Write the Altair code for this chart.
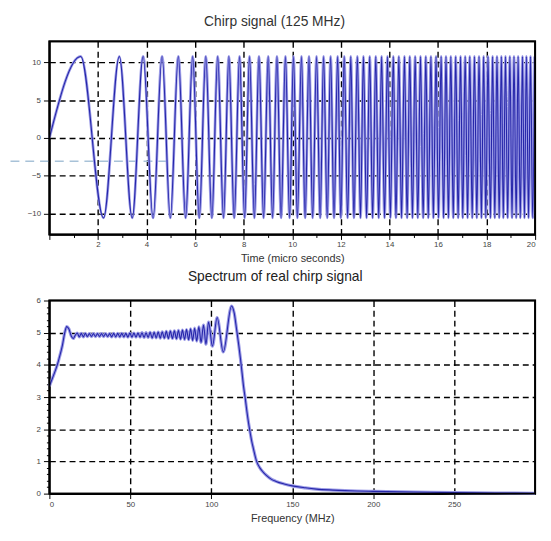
import altair as alt
import pandas as pd

# ---------------- data ----------------
# Chirp signal: times (micro seconds) of successive extrema (peak, trough, peak, ...)
chirp_extrema_t = [
    1.29, 2.23, 2.88, 3.41, 3.86, 4.27, 4.64, 4.98, 5.31, 5.61, 5.90, 6.17, 6.44, 6.69,
    6.93, 7.17, 7.39, 7.61, 7.83, 8.04, 8.24, 8.44, 8.63, 8.82, 9.01, 9.19, 9.37, 9.54,
    9.72, 9.89, 10.05, 10.21, 10.38, 10.53, 10.69, 10.84, 11.00, 11.15, 11.29, 11.44,
    11.58, 11.72, 11.87, 12.00, 12.14, 12.28, 12.41, 12.54, 12.68, 12.81, 12.93, 13.06,
    13.19, 13.31, 13.44, 13.56, 13.68, 13.80, 13.92, 14.04, 14.16, 14.27, 14.39, 14.50,
    14.62, 14.73, 14.84, 14.95, 15.06, 15.17, 15.28, 15.39, 15.50, 15.60, 15.71, 15.81,
    15.92, 16.02, 16.13, 16.23, 16.33, 16.43, 16.53, 16.63, 16.73, 16.83, 16.93, 17.02,
    17.12, 17.22, 17.31, 17.41, 17.50, 17.60, 17.69, 17.79, 17.88, 17.97, 18.06, 18.16,
    18.25, 18.34, 18.43, 18.52, 18.61, 18.69, 18.78, 18.87, 18.96, 19.05, 19.13, 19.22,
    19.30, 19.39, 19.48, 19.56, 19.64, 19.73, 19.81, 19.90, 19.98,
]
chirp_start = (0.0, 0.0)
chirp_levels = [10.8, -10.6]  # peak level, trough level

# Spectrum of real chirp signal
spec_f = [
    0, 2, 4, 5, 6, 8, 9.5, 10.7, 12, 13.5, 14.7, 16.0, 17.2, 18.5, 19.7, 21.0, 22.2,
    23.5, 24.7, 26.0, 27.2, 28.5, 29.7, 31.0, 32.2, 33.5, 34.7, 36.0, 37.2, 38.5, 39.7,
    41.0, 42.2, 43.5, 44.7, 46.0, 47.2, 48.5, 49.7, 51.0, 52.2, 53.5, 54.7, 56.0, 57.2,
    58.5, 59.7, 61.0, 62.2, 63.5, 64.7, 66.0, 67.2, 68.5, 69.7, 71.0, 72.2, 73.5, 74.7,
    76.0, 77.2, 78.5, 79.7, 81.0, 82.2, 83.5, 84.7, 86.0, 87.2, 88.5, 89.7, 91.0, 92.3,
    93.7, 95.2, 96.7, 98.3, 100.7, 103.6, 107.4, 112.5, 114.2, 115.5, 117, 118, 119, 120,
    121, 122, 123, 124, 125, 126, 128, 130, 132, 134, 137, 140, 145, 150, 158, 165, 175,
    190, 200, 225, 250, 275, 300,
]
spec_v = [
    3.34, 3.6, 3.87, 4.02, 4.2, 4.6, 5.0, 5.19, 5.12, 4.9, 4.82, 4.92, 4.99, 4.87, 4.98,
    4.87, 4.98, 4.88, 4.97, 4.88, 4.97, 4.88, 4.97, 4.88, 4.97, 4.88, 4.97, 4.88, 4.97,
    4.87, 4.98, 4.87, 4.98, 4.87, 4.98, 4.87, 4.98, 4.86, 4.99, 4.86, 4.99, 4.86, 4.99,
    4.86, 5.00, 4.85, 5.00, 4.85, 5.01, 4.84, 5.01, 4.84, 5.02, 4.83, 5.03, 4.83, 5.04,
    4.82, 5.05, 4.82, 5.06, 4.81, 5.07, 4.80, 5.08, 4.79, 5.10, 4.78, 5.12, 4.76, 5.14,
    4.74, 5.18, 4.70, 5.24, 4.64, 5.33, 4.58, 5.47, 4.40, 5.83, 5.6, 5.15, 4.6, 4.2, 3.75,
    3.3, 2.95, 2.55, 2.2, 1.9, 1.62, 1.4, 1.0, 0.8, 0.67, 0.57, 0.45, 0.38, 0.3, 0.24,
    0.18, 0.14, 0.11, 0.08, 0.07, 0.05, 0.03, 0.02, 0.01,
]

# stray light-blue dashed line seen at the left of the top panel
stray_line = {"t": [-1.6], "t2": [4.8], "y": [-3.1]}

# axis ranges (also used for the box around each panel)
top_t_range = [0, 20]
top_y_range = [-12.8, 12.8]
bot_f_range = [0, 300]
bot_v_range = [0, 6]

top_x_ticks = list(range(0, 21))
top_y_ticks = [-10, -5, 0, 5, 10]
bot_x_ticks = [0, 50, 100, 150, 200, 250]
bot_y_ticks = [round(i * 0.2, 1) for i in range(31)]

PANEL_W, PANEL_H = 493, 196

# ---------------- tables ----------------
chirp_t = [chirp_start[0]] + chirp_extrema_t
chirp_y = [chirp_start[1]] + [chirp_levels[i % 2] for i in range(len(chirp_extrema_t))]
chirp_df = pd.DataFrame({"t": chirp_t, "y": chirp_y})
spec_df = pd.DataFrame({"f": spec_f, "v": spec_v})
stray_df = pd.DataFrame(stray_line)
top_box_df = pd.DataFrame({"t": [top_t_range[0]], "t2": [top_t_range[1]],
                           "y": [top_y_range[0]], "y2": [top_y_range[1]]})
bot_box_df = pd.DataFrame({"f": [bot_f_range[0]], "f2": [bot_f_range[1]],
                           "v": [bot_v_range[0]], "v2": [bot_v_range[1]]})

FONT = "Liberation Sans"
HALO = "#9c9ce6"
CORE = "#2626aa"

common_axis = dict(
    labelFont=FONT, labelFontSize=8, labelColor="#444", titleFont=FONT,
    titleFontSize=11, titleColor="#333", titleFontWeight="normal",
    domain=True, domainColor="black", domainWidth=1.6,
    tickColor="black", gridColor="black", gridDash=[6, 4],
    gridWidth=1.4, tickWidth=1,
)

INT_TEST = "abs(datum.value - round(datum.value)) < 0.01"

# ---------------- top panel ----------------
x_top = alt.X(
    "t:Q",
    scale=alt.Scale(domain=top_t_range, nice=False, zero=False),
    axis=alt.Axis(
        values=top_x_ticks,
        labelExpr="(datum.value % 2 == 0 && datum.value > 0) ? datum.label : ''",
        tickSize={"condition": {"test": "datum.value % 2 == 0", "value": 5}, "value": 3},
        gridOpacity={"condition": {"test": "datum.value % 2 == 0 && datum.value > 0 && datum.value < 20", "value": 1}, "value": 0},
        labelFlush=True, labelPadding=1, titlePadding=4,
        title="Time (micro seconds)", **common_axis,
    ),
)
y_top = alt.Y(
    "y:Q",
    scale=alt.Scale(domain=top_y_range, nice=False),
    axis=alt.Axis(values=top_y_ticks, tickSize=6, labelPadding=3, title=None,
                  minExtent=41, maxExtent=41, **common_axis),
)

stray = alt.Chart(stray_df).mark_rule(
    color="#a8c2d8", strokeWidth=1.5, strokeDash=[9, 6]
).encode(x=x_top, x2="t2:Q", y=y_top)
halo = alt.Chart(chirp_df).mark_line(
    color=HALO, strokeWidth=2.8, interpolate="monotone"
).encode(x=x_top, y=y_top)
core = alt.Chart(chirp_df).mark_line(
    color=CORE, strokeWidth=1.1, interpolate="monotone"
).encode(x=x_top, y=y_top)
top_box = alt.Chart(top_box_df).mark_rect(
    fill="transparent", stroke="black", strokeWidth=2
).encode(x=x_top, x2="t2:Q", y=y_top, y2="y2:Q")

top = alt.layer(stray, halo, core, top_box).properties(
    width=PANEL_W, height=PANEL_H,
    title=alt.TitleParams("Chirp signal (125 MHz)", font=FONT, fontSize=14,
                          fontWeight="normal", color="#333", anchor="middle",
                          frame="bounds", offset=12),
)

# ---------------- bottom panel ----------------
x_bot = alt.X(
    "f:Q",
    scale=alt.Scale(domain=bot_f_range, nice=False, zero=False),
    axis=alt.Axis(
        values=bot_x_ticks, tickSize=5, labelPadding=2, titlePadding=4,
        gridOpacity={"condition": {"test": "datum.value > 0", "value": 1}, "value": 0},
        title="Frequency (MHz)", **common_axis,
    ),
)
y_bot = alt.Y(
    "v:Q",
    scale=alt.Scale(domain=bot_v_range, nice=False),
    axis=alt.Axis(
        values=bot_y_ticks,
        labelExpr=INT_TEST + " ? format(datum.value, '.0f') : ''",
        tickSize={"condition": {"test": INT_TEST, "value": 6}, "value": 3},
        gridOpacity={"condition": {"test": INT_TEST + " && datum.value > 0 && datum.value < 6", "value": 1}, "value": 0},
        labelPadding=3, title=None, minExtent=41, maxExtent=41, **common_axis,
    ),
)

shalo = alt.Chart(spec_df).mark_line(
    color=HALO, strokeWidth=3.2, interpolate="monotone"
).encode(x=x_bot, y=y_bot)
score = alt.Chart(spec_df).mark_line(
    color=CORE, strokeWidth=1.1, interpolate="monotone"
).encode(x=x_bot, y=y_bot)
bot_box = alt.Chart(bot_box_df).mark_rect(
    fill="transparent", stroke="black", strokeWidth=2
).encode(x=x_bot, x2="f2:Q", y=y_bot, y2="v2:Q")

bottom = alt.layer(shalo, score, bot_box).properties(
    width=PANEL_W, height=PANEL_H,
    title=alt.TitleParams("Spectrum of real chirp signal", font=FONT, fontSize=14,
                          fontWeight="normal", color="#222", anchor="middle",
                          frame="bounds", offset=13),
)

chart = alt.vconcat(top, bottom, spacing=5).properties(
    padding={"left": 0, "top": 2, "right": 0, "bottom": 0},
    background="white",
).configure_view(stroke="black", strokeWidth=1.6)

chart.save("out.html", embed_options={"renderer": "svg", "actions": False})
